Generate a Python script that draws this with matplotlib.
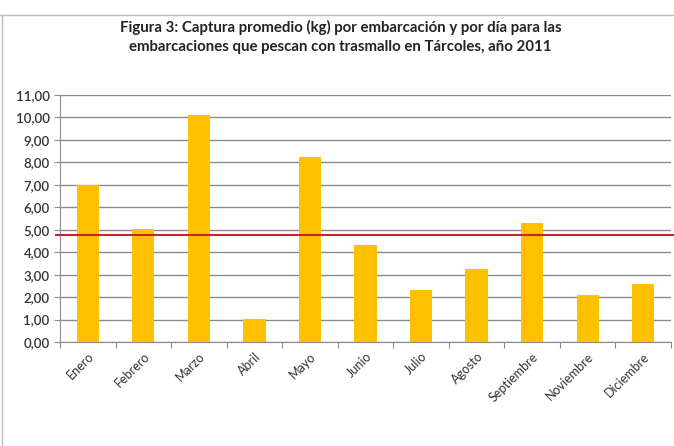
import matplotlib
matplotlib.use('Agg')
from matplotlib import pyplot as plt
from matplotlib.lines import Line2D
import numpy as np

meses = ['Enero', 'Febrero', 'Marzo', 'Abril', 'Mayo', 'Junio', 'Julio',
         'Agosto', 'Septiembre', 'Noviembre', 'Diciembre']
captura = [7.00, 5.05, 10.12, 1.03, 8.25, 4.30, 2.33, 3.27, 5.28, 2.08, 2.58]
promedio = 4.77
y_ticks = np.arange(0, 12, 1)

plt.rcParams['font.family'] = ['Lato', 'DejaVu Sans']

fig = plt.figure(figsize=(6.74, 4.46), dpi=100)
ax = fig.add_axes([60 / 674, 1 - 342 / 446, 611 / 674, 247 / 446])

x = np.arange(len(meses))
ax.bar(x, captura, width=0.4, color='#FFC000', zorder=2)
ax.axhline(promedio, xmin=-0.006, xmax=1.01, color='#C0272D', lw=1.5, zorder=3, clip_on=False)

ax.set_xlim(-0.5, len(meses) - 0.5)
ax.set_ylim(0, 11)
ax.set_yticks(y_ticks)
ax.set_yticklabels(['%d,00' % v for v in y_ticks], fontsize=9.5, fontweight='semibold', color='#333333')
ax.yaxis.grid(True, color='#8c8c8c', lw=1, zorder=0)
ax.set_axisbelow(True)

# tick marks between categories
ax.set_xticks(np.arange(-0.5, len(meses), 1))
ax.set_xticklabels([])
ax.set_xticks(x, minor=True)
ax.set_xticklabels(meses, minor=True, rotation=45, ha='right', rotation_mode='anchor',
                   fontsize=9, color='#333333')
ax.tick_params(axis='x', which='minor', length=0, pad=6)
ax.tick_params(axis='x', which='major', length=4, color='#8c8c8c')
ax.tick_params(axis='y', length=4, color='#8c8c8c')

for s in ['top', 'right']:
    ax.spines[s].set_visible(False)
for s in ['left', 'bottom']:
    ax.spines[s].set_color('#8c8c8c')

fig.text(0.505, 1 - 27 / 446, 'Figura 3: Captura promedio (kg) por embarcación y por día para las',
         ha='center', va='center', fontsize=10.8, fontweight='bold', color='#222222')
fig.text(0.505, 1 - 47 / 446, 'embarcaciones que pescan con trasmallo en Tárcoles, año 2011',
         ha='center', va='center', fontsize=10.8, fontweight='bold', color='#222222')

# outer chart frame
fig.add_artist(Line2D([0, 1], [1 - 15 / 446] * 2, color='#bbbbbb', lw=1, transform=fig.transFigure))
fig.add_artist(Line2D([2 / 674] * 2, [0, 1 - 15 / 446], color='#bbbbbb', lw=1, transform=fig.transFigure))

fig.savefig('out.png', dpi=100)
